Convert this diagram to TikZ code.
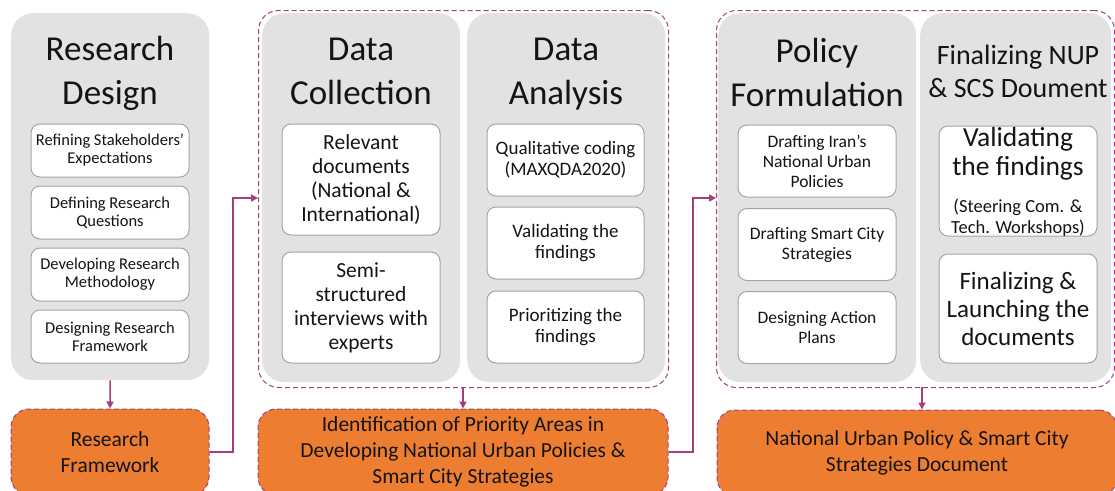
\documentclass[tikz,border=0pt]{standalone}
\usepackage{fontspec}
\setmainfont{Carlito}
\usetikzlibrary{arrows.meta}
\definecolor{pur}{RGB}{165,62,125}
\definecolor{org}{RGB}{237,125,49}
\definecolor{pgray}{RGB}{226,226,226}
\definecolor{bgray}{RGB}{165,165,165}
\definecolor{txt}{RGB}{20,20,20}
\tikzset{
  panel/.style={fill=pgray, rounded corners=22pt, inner sep=0pt, anchor=north west},
  subbox/.style={fill=white, draw=bgray, line width=1pt, rounded corners=9pt, inner sep=0pt, align=center, text=txt},
  grp/.style={draw=pur, line width=1pt, dash pattern=on 5pt off 3pt, rounded corners=20pt, inner sep=0pt, anchor=north west},
  obox/.style={fill=org, draw=pur, line width=1pt, dash pattern=on 5pt off 3pt, rounded corners=18pt, inner sep=0pt, align=center, text=txt, font=\fontsize{21.5}{26}\selectfont},
  ttl/.style={align=center, text=txt, inner sep=0pt, font=\fontsize{35}{44}\selectfont},
  conn/.style={draw=pur, line width=1.6pt, -{Triangle[length=7pt,width=7pt]}},
}
\begin{document}
\begin{tikzpicture}[x=1pt,y=-1pt]
\useasboundingbox (0,0) rectangle (1115,490);
% groups
\node[grp, minimum width=410, minimum height=377] (g1) at (258,10) {};
\node[grp, minimum width=398, minimum height=377] (g2) at (716,10) {};
% panels
\node[panel, minimum width=198, minimum height=367] (rd) at (11,13) {};
\node[panel, minimum width=198, minimum height=369] (dc) at (262,13) {};
\node[panel, minimum width=198, minimum height=369] (da) at (467,13) {};
\node[panel, minimum width=198, minimum height=369] (pf) at (718,13) {};
\node[panel, minimum width=191, minimum height=369] (fn) at (920,13) {};
% titles
\node[ttl] (rdT) at (110,74) {\strut Research\\\strut Design};
\node[ttl] (dcT) at (361,74) {\strut Data\\\strut Collection};
\node[ttl] (daT) at (566,74) {\strut Data\\\strut Analysis};
\node[ttl] (pfT) at (817,75.5) {\strut Policy\\\strut Formulation};
\node[ttl, font=\fontsize{28}{33}\selectfont] (fnT) at (1018,74.5) {\strut Finalizing NUP\\\strut \& SCS Doument};
% research design subs
\begin{scope}[every node/.append style={subbox, minimum width=158, minimum height=53, font=\fontsize{16.5}{18}\selectfont}]
\node (rd1) at (110,150.5) {Refining Stakeholders’\\Expectations};
\node (rd2) at (110,212.5) {Defining Research\\Questions};
\node (rd3) at (110,274.5) {Developing Research\\Methodology};
\node (rd4) at (110,336.5) {Designing Research\\Framework};
\end{scope}
% data collection subs
\begin{scope}[every node/.append style={subbox, minimum width=158, minimum height=111, font=\fontsize{21.5}{24}\selectfont}]
\node (dc1) at (361,179.5) {Relevant\\documents\\(National \&\\International)};
\node (dc2) at (361,307.5) {Semi-\\structured\\interviews with\\experts};
\end{scope}
% data analysis subs
\begin{scope}[every node/.append style={subbox, minimum width=157, minimum height=72, font=\fontsize{19}{21}\selectfont}]
\node (da1) at (565.5,160) {Qualitative coding\\(MAXQDA2020)};
\node (da2) at (565.5,243) {Validating the\\findings};
\node (da3) at (565.5,327) {Prioritizing the\\findings};
\end{scope}
% policy formulation subs
\begin{scope}[every node/.append style={subbox, minimum width=158, minimum height=72, font=\fontsize{17.5}{20}\selectfont}]
\node (pf1) at (817,161) {Drafting Iran’s\\National Urban\\Policies};
\node (pf2) at (817,244.5) {Drafting Smart City\\Strategies};
\node (pf3) at (817,327.5) {Designing Action\\Plans};
\end{scope}
% finalizing subs
\node[subbox, minimum width=158, minimum height=110] (fn1) at (1018,181) {};
\node[text=txt, align=center, inner sep=0pt, font=\fontsize{27.5}{29}\selectfont] (fn1a) at (1018,154) {Validating\\the findings};
\node[text=txt, align=center, inner sep=0pt, font=\fontsize{18.5}{21}\selectfont] (fn1b) at (1018,218) {(Steering Com. \&\\Tech. Workshops)};
\node[subbox, minimum width=158, minimum height=109, font=\fontsize{25}{28}\selectfont] (fn2) at (1018,308.5) {Finalizing \&\\Launching the\\documents};
% orange outputs
\node[obox, minimum width=198, minimum height=86] (rf) at (110,452) {Research\\Framework};
\node[obox, minimum width=410, minimum height=86] (ia) at (463,452) {Identification of Priority Areas in\\Developing National Urban Policies \&\\Smart City Strategies};
\node[obox, minimum width=400, minimum height=86] (nd) at (917,453) {National Urban Policy \& Smart City\\Strategies Document};
% connectors
\coordinate (a1) at (463,387);
\coordinate (a2) at (922,387);
\draw[conn] (rd.south) -- (rf.north);
\draw[conn] (a1) -- (a1 |- ia.north);
\draw[conn] (a2) -- (a2 |- nd.north);
\coordinate (c1) at (233,198);
\coordinate (c2) at (693,198);
\draw[conn] (rf.east) -| (c1) -- (g1.west |- c1);
\draw[conn] (ia.east) -| (c2) -- (g2.west |- c2);
\end{tikzpicture}
\end{document}
